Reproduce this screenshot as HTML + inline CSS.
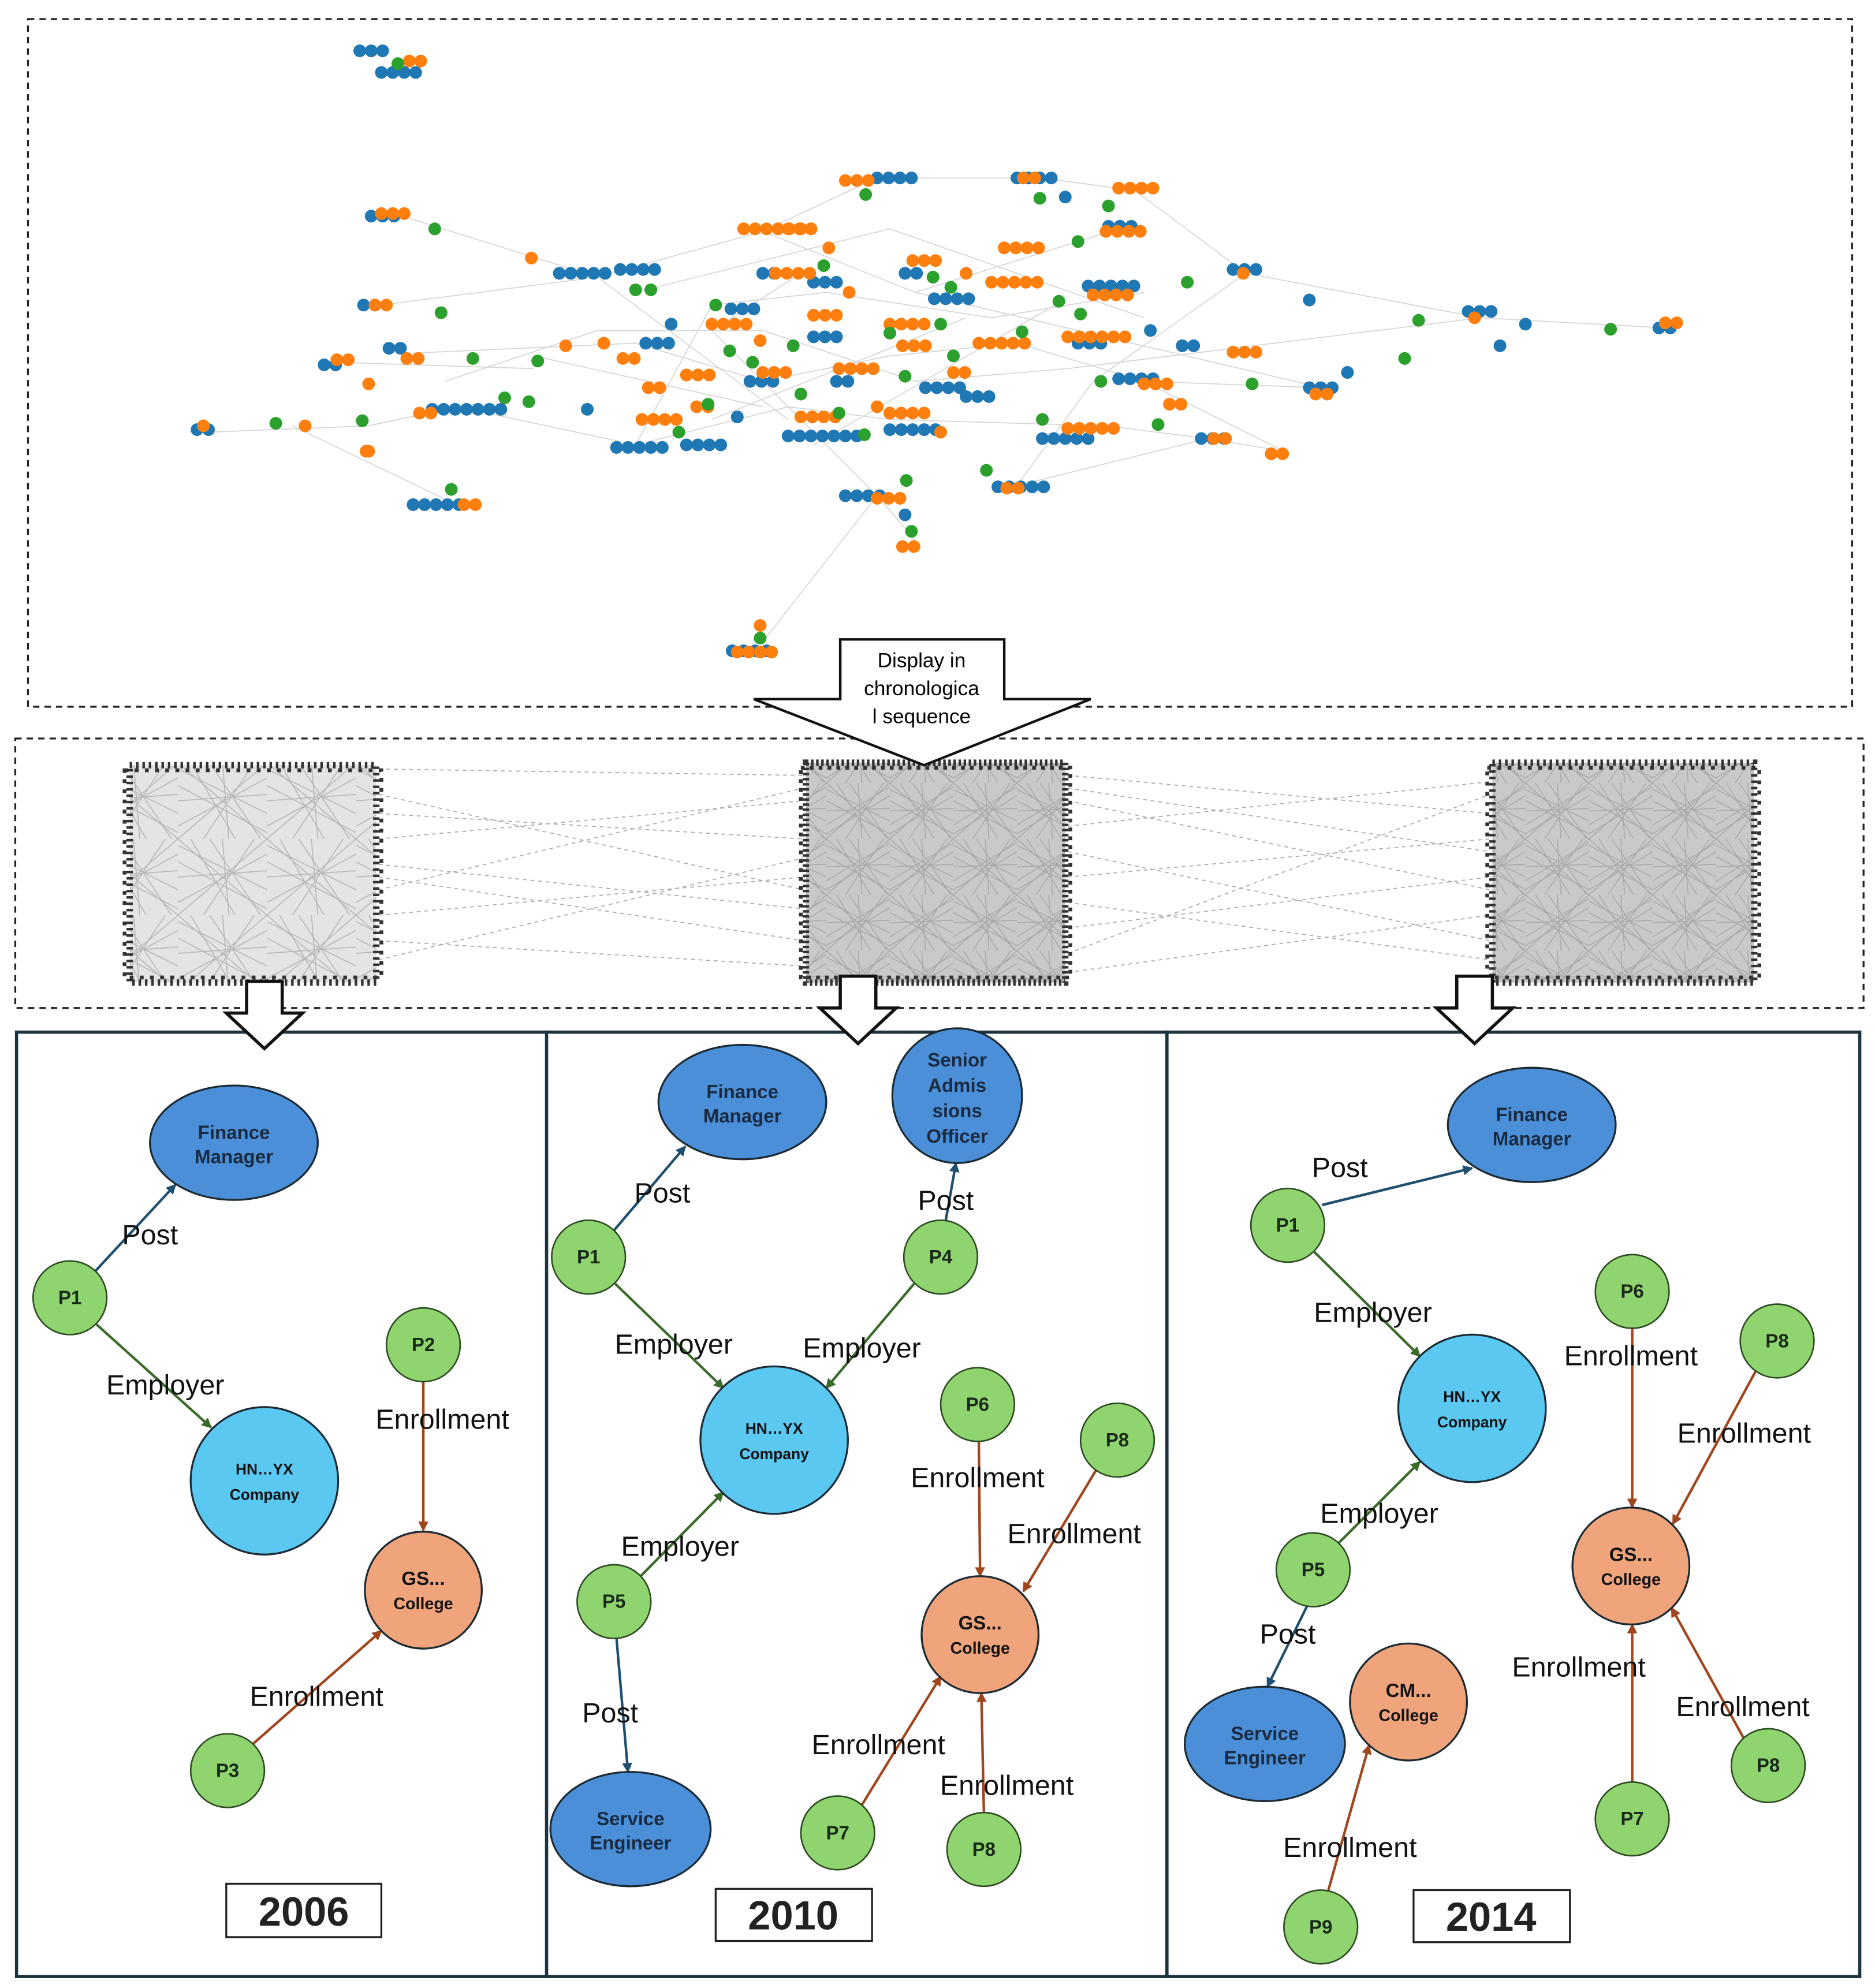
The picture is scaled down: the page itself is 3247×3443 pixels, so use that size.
<!DOCTYPE html>
<html><head><meta charset="utf-8"><style>
html,body{margin:0;padding:0;background:#fff;}
svg{display:block;}
text{font-family:"Liberation Sans",sans-serif;}
</style></head><body>
<svg width="3247" height="3443" viewBox="0 0 1475 1564" xmlns="http://www.w3.org/2000/svg">
<defs>
<marker id="ab" markerWidth="8" markerHeight="8" refX="7" refY="4" orient="auto" markerUnits="userSpaceOnUse"><path d="M0,0 L8,4 L0,8 z" fill="#1f4e6e"/></marker>
<marker id="ag" markerWidth="8" markerHeight="8" refX="7" refY="4" orient="auto" markerUnits="userSpaceOnUse"><path d="M0,0 L8,4 L0,8 z" fill="#3a6b2a"/></marker>
<marker id="ao" markerWidth="8" markerHeight="8" refX="7" refY="4" orient="auto" markerUnits="userSpaceOnUse"><path d="M0,0 L8,4 L0,8 z" fill="#a0461e"/></marker>
<pattern id="p1" width="70" height="60" patternUnits="userSpaceOnUse">
<rect width="70" height="60" fill="#e4e4e4"/>
<path d="M0,5 L70,40 M0,50 L70,12 M10,0 L45,60 M60,0 L20,60 M0,30 L70,25 M35,0 L40,60 M0,0 L70,60 M70,0 L0,60 M0,18 L70,55 M25,0 L65,60" stroke="#b8b8b8" stroke-width="0.8"/>
</pattern>
<pattern id="p2" width="50" height="44" patternUnits="userSpaceOnUse">
<rect width="50" height="44" fill="#c9c9c9"/>
<path d="M0,5 L50,30 M0,40 L50,10 M8,0 L35,44 M45,0 L15,44 M0,22 L50,20 M25,0 L28,44 M0,0 L50,44 M50,0 L0,44 M0,14 L50,40 M18,0 L48,44 M0,33 L50,3" stroke="#a8a8a8" stroke-width="0.7"/>
</pattern>
</defs>
<rect x="0" y="0" width="1475" height="1564" fill="#fff"/>
<rect x="22" y="15" width="1435" height="541" fill="none" stroke="#222" stroke-width="1.5" stroke-dasharray="5,4"/>
<rect x="12" y="581" width="1454" height="212" fill="none" stroke="#222" stroke-width="1.5" stroke-dasharray="5,4"/>

<!-- network grey edges -->
<path fill="none" stroke="#d6d6d6" stroke-width="0.8" d="
M310,168 L470,218 L600,182 L690,140 L820,140 L893,150 L980,215 L1165,250 L1310,258
M300,240 L470,218 M320,278 L500,270 L600,300 L700,280 L800,270 L900,300 L1040,305
M165,340 L290,335 L360,320 L500,350 L620,320 L700,330 L870,335 L950,345 L1010,355
M230,335 L355,395 M600,182 L720,230 L880,180 M630,215 L560,260 L690,390 L720,425
M800,382 L860,300 L980,215 M500,350 L560,240 L650,230 L780,250 L900,230
M350,300 L470,260 L600,260 L720,300 L840,290 L1165,250 M900,300 L1010,355
M600,505 L690,390 M500,230 L700,180 L900,250 M560,330 L760,250 M640,350 L830,240
M720,230 L1040,305 M420,280 L600,320 M800,382 L950,345 M265,285 L420,290 M470,218 L620,330"/>

<!-- network dots -->
<g fill="none" stroke-linecap="round" stroke-width="10">
<path stroke="#1f77b4" stroke-dasharray="0,9" d="
M283,40h20 M300,57h30 M292,170h20 M440,215h45 M286,240h14 M306,274h16 M255,287h10 M155,338h18 M340,322h55 M325,397h45 M690,140h30 M800,140h30 M872,178h25 M970,212h25 M1155,245h25 M1305,258h18 M1030,305h20 M945,345h25 M785,383h40 M665,390h35 M576,512h35 M485,352h40 M540,350h30 M820,345h45 M880,298h30 M488,212h30 M856,225h45 M735,235h30 M575,243h25 M640,222h22 M620,343h60 M700,338h40 M508,270h25 M640,265h25 M728,305h30 M848,270h20 M590,300h20 M658,300h15 M600,215h10 M712,215h15 M930,272h10 M1030,236h5 M1180,272h5 M1200,255h5 M1060,293h5 M838,155h5 M528,255h5 M580,328h5 M760,312h25 M905,260h8 M462,322h5 M712,405h5"/>
<path stroke="#ff7f0e" stroke-dasharray="0,9" d="
M322,48h12 M300,168h20 M295,240h15 M320,282h12 M265,283h10 M160,335h5 M240,335h5 M290,355h5 M330,325h15 M365,397h15 M418,203h5 M585,180h50 M610,215h30 M665,142h25 M805,140h15 M880,148h35 M870,182h35 M790,195h30 M978,215h5 M1160,250h5 M1310,254h10 M1035,310h15 M1000,357h15 M970,277h25 M955,345h10 M792,384h15 M690,392h25 M710,430h15 M580,513h30 M598,492h5 M505,330h30 M560,255h30 M640,248h25 M700,255h30 M770,270h40 M840,265h50 M860,232h35 M660,290h30 M540,295h25 M600,293h20 M510,305h15 M630,328h35 M700,325h30 M840,337h40 M900,302h25 M920,318h10 M780,222h40 M620,180h25 M652,195h5 M668,230h5 M718,205h20 M490,282h10 M475,270h5 M445,272h5 M290,302h5 M288,355h5 M598,268h5 M710,272h20 M750,293h15 M740,340h5 M548,320h10 M690,320h5 M760,215h5"/>
<path stroke="#2ca02c" stroke-dasharray="0,9" d="
M313,50h5 M342,180h5 M347,246h5 M372,282h5 M217,333h5 M285,331h5 M355,385h5 M423,284h5 M397,313h5 M416,316h5 M500,228h5 M512,228h5 M563,240h5 M574,276h5 M592,285h5 M624,272h5 M681,153h5 M734,218h5 M748,226h5 M818,156h5 M848,190h5 M872,162h5 M833,237h5 M850,247h5 M934,222h5 M1116,252h5 M1105,282h5 M1267,259h5 M985,302h5 M911,334h5 M866,300h5 M820,330h5 M804,261h5 M740,255h5 M700,262h5 M660,325h5 M630,310h5 M712,296h5 M776,370h5 M713,378h5 M717,418h5 M598,502h5 M557,318h5 M534,340h5 M648,209h5 M680,342h5 M750,280h5"/>
</g>

<!-- middle panel: inter-links -->
<path fill="none" stroke="#aaa" stroke-width="0.8" stroke-dasharray="3,3" d="
M298,605 L632,610 M298,625 L632,700 M298,640 L632,660 M298,660 L632,630 M298,690 L632,740 M298,700 L632,620 M298,720 L632,690 M298,740 L632,760 M298,755 L632,675 M298,680 L632,715
M840,610 L1172,640 M840,630 L1172,700 M840,650 L1172,615 M840,670 L1172,740 M840,690 L1172,660 M840,710 L1172,755 M840,730 L1172,690 M840,750 L1172,625 M840,765 L1172,720 M840,620 L1172,670"/>
<rect x="102" y="602" width="194" height="171" fill="url(#p1)"/>
<rect x="634" y="600" width="204" height="173" fill="url(#p2)"/>
<rect x="1174" y="600" width="206" height="173" fill="url(#p2)"/>
<g fill="none" stroke="#333">
<rect x="102" y="602" width="194" height="171" stroke-width="5" stroke-dasharray="2,3"/>
<rect x="98" y="606" width="202" height="163" stroke-width="3" stroke-dasharray="3,5"/>
<rect x="634" y="600" width="204" height="173" stroke-width="5" stroke-dasharray="2,2"/>
<rect x="630" y="604" width="212" height="165" stroke-width="3" stroke-dasharray="3,4"/>
<rect x="1174" y="600" width="206" height="173" stroke-width="5" stroke-dasharray="2,3"/>
<rect x="1170" y="604" width="214" height="165" stroke-width="3" stroke-dasharray="3,5"/>
</g>

<!-- big arrow -->
<path d="M661,503 H790 V550 H858 L727,602 L593,550 H661 Z" fill="#fff" stroke="#111" stroke-width="2"/>
<text x="725" y="525" font-size="16" text-anchor="middle">Display in</text>
<text x="725" y="547" font-size="16" text-anchor="middle">chronologica</text>
<text x="725" y="569" font-size="16" text-anchor="middle">l sequence</text>
<!-- panels -->
<rect x="13" y="812" width="417" height="743" fill="#fff" stroke="#1c3340" stroke-width="2.5"/>
<rect x="430" y="812" width="488" height="743" fill="#fff" stroke="#1c3340" stroke-width="2.5"/>
<rect x="918" y="812" width="545" height="743" fill="#fff" stroke="#1c3340" stroke-width="2.5"/>
<!-- down arrows -->
<g fill="#fff" stroke="#111" stroke-width="2.5">
<path d="M194,772 H222 V797 H238 L208,825 L178,797 H194 Z"/>
<path d="M661,768 H689 V793 H705 L675,821 L645,793 H661 Z"/>
<path d="M1146,768 H1174 V793 H1190 L1160,821 L1130,793 H1146 Z"/>
</g>
<g stroke-width="2" fill="none">
<line x1="75" y1="1000" x2="138" y2="932" stroke="#1f4e6e" marker-end="url(#ab)"/>
<line x1="76" y1="1042" x2="166" y2="1123" stroke="#3a6b2a" marker-end="url(#ag)"/>
<line x1="333" y1="1087" x2="333" y2="1204" stroke="#a0461e" marker-end="url(#ao)"/>
<line x1="199" y1="1372" x2="300" y2="1283" stroke="#a0461e" marker-end="url(#ao)"/>
<line x1="483" y1="968" x2="539" y2="902" stroke="#1f4e6e" marker-end="url(#ab)"/>
<line x1="744" y1="960" x2="752" y2="915" stroke="#1f4e6e" marker-end="url(#ab)"/>
<line x1="484" y1="1010" x2="569" y2="1092" stroke="#3a6b2a" marker-end="url(#ag)"/>
<line x1="719" y1="1010" x2="650" y2="1092" stroke="#3a6b2a" marker-end="url(#ag)"/>
<line x1="504" y1="1240" x2="569" y2="1174" stroke="#3a6b2a" marker-end="url(#ag)"/>
<line x1="485" y1="1289" x2="494" y2="1394" stroke="#1f4e6e" marker-end="url(#ab)"/>
<line x1="770" y1="1134" x2="771" y2="1240" stroke="#a0461e" marker-end="url(#ao)"/>
<line x1="862" y1="1157" x2="805" y2="1252" stroke="#a0461e" marker-end="url(#ao)"/>
<line x1="678" y1="1420" x2="740" y2="1319" stroke="#a0461e" marker-end="url(#ao)"/>
<line x1="774" y1="1426" x2="772" y2="1332" stroke="#a0461e" marker-end="url(#ao)"/>
<line x1="1040" y1="948" x2="1158" y2="919" stroke="#1f4e6e" marker-end="url(#ab)"/>
<line x1="1034" y1="985" x2="1117" y2="1067" stroke="#3a6b2a" marker-end="url(#ag)"/>
<line x1="1053" y1="1214" x2="1117" y2="1150" stroke="#3a6b2a" marker-end="url(#ag)"/>
<line x1="1028" y1="1264" x2="997" y2="1327" stroke="#1f4e6e" marker-end="url(#ab)"/>
<line x1="1284" y1="1045" x2="1284" y2="1186" stroke="#a0461e" marker-end="url(#ao)"/>
<line x1="1381" y1="1079" x2="1316" y2="1199" stroke="#a0461e" marker-end="url(#ao)"/>
<line x1="1284" y1="1402" x2="1284" y2="1278" stroke="#a0461e" marker-end="url(#ao)"/>
<line x1="1372" y1="1368" x2="1315" y2="1265" stroke="#a0461e" marker-end="url(#ao)"/>
<line x1="1045" y1="1487" x2="1077" y2="1373" stroke="#a0461e" marker-end="url(#ao)"/>
</g>
<g stroke="#1c2a33" stroke-width="1.5">
<ellipse cx="184" cy="899" rx="66" ry="45" fill="#4a8fd8"/>
<ellipse cx="584" cy="867" rx="66" ry="45" fill="#4a8fd8"/>
<ellipse cx="753" cy="862" rx="51" ry="53" fill="#4a8fd8"/>
<ellipse cx="1205" cy="885" rx="66" ry="45" fill="#4a8fd8"/>
<ellipse cx="496" cy="1439" rx="63" ry="45" fill="#4a8fd8"/>
<ellipse cx="995" cy="1372" rx="63" ry="45" fill="#4a8fd8"/>
<circle cx="208" cy="1165" r="58" fill="#5bc8f2"/>
<circle cx="609" cy="1133" r="58" fill="#5bc8f2"/>
<circle cx="1158" cy="1108" r="58" fill="#5bc8f2"/>
<circle cx="333" cy="1251" r="46" fill="#f0a47c"/>
<circle cx="771" cy="1286" r="46" fill="#f0a47c"/>
<circle cx="1283" cy="1232" r="46" fill="#f0a47c"/>
<circle cx="1108" cy="1339" r="46" fill="#f0a47c"/>
</g>
<g fill="#8fd46e" stroke="#2d4a22" stroke-width="1.2">
<circle cx="55" cy="1021" r="29"/><circle cx="333" cy="1058" r="29"/><circle cx="179" cy="1393" r="29"/>
<circle cx="463" cy="989" r="29"/><circle cx="740" cy="989" r="29"/><circle cx="769" cy="1105" r="29"/>
<circle cx="879" cy="1133" r="29"/><circle cx="483" cy="1260" r="29"/><circle cx="659" cy="1442" r="29"/><circle cx="774" cy="1455" r="29"/>
<circle cx="1013" cy="964" r="29"/><circle cx="1284" cy="1016" r="29"/><circle cx="1398" cy="1055" r="29"/>
<circle cx="1033" cy="1235" r="29"/><circle cx="1284" cy="1431" r="29"/><circle cx="1391" cy="1389" r="29"/><circle cx="1039" cy="1516" r="29"/>
</g>
<g font-size="15" font-weight="bold" fill="#1a2a40" text-anchor="middle">
<text x="184" y="896">Finance</text><text x="184" y="915">Manager</text>
<text x="584" y="864">Finance</text><text x="584" y="883">Manager</text>
<text x="1205" y="882">Finance</text><text x="1205" y="901">Manager</text>
<text x="753" y="839">Senior</text><text x="753" y="859">Admis</text><text x="753" y="879">sions</text><text x="753" y="899">Officer</text>
<text x="496" y="1436">Service</text><text x="496" y="1455">Engineer</text>
<text x="995" y="1369">Service</text><text x="995" y="1388">Engineer</text>
</g>
<g font-size="12" font-weight="bold" fill="#111" text-anchor="middle">
<text x="208" y="1160">HN…YX</text><text x="208" y="1180">Company</text>
<text x="609" y="1128">HN…YX</text><text x="609" y="1148">Company</text>
<text x="1158" y="1103">HN…YX</text><text x="1158" y="1123">Company</text>
</g>
<g font-weight="bold" fill="#111" text-anchor="middle">
<text x="333" y="1247" font-size="15">GS...</text><text x="333" y="1266" font-size="13">College</text>
<text x="771" y="1282" font-size="15">GS...</text><text x="771" y="1301" font-size="13">College</text>
<text x="1283" y="1228" font-size="15">GS...</text><text x="1283" y="1247" font-size="13">College</text>
<text x="1108" y="1335" font-size="15">CM...</text><text x="1108" y="1354" font-size="13">College</text>
</g>
<g font-size="15" font-weight="bold" fill="#1a2a1a" text-anchor="middle">
<text x="55" y="1026">P1</text><text x="333" y="1063">P2</text><text x="179" y="1398">P3</text>
<text x="463" y="994">P1</text><text x="740" y="994">P4</text><text x="769" y="1110">P6</text>
<text x="879" y="1138">P8</text><text x="483" y="1265">P5</text><text x="659" y="1447">P7</text><text x="774" y="1460">P8</text>
<text x="1013" y="969">P1</text><text x="1284" y="1021">P6</text><text x="1398" y="1060">P8</text>
<text x="1033" y="1240">P5</text><text x="1284" y="1436">P7</text><text x="1391" y="1394">P8</text><text x="1039" y="1521">P9</text>
</g>
<g font-size="22" fill="#111" text-anchor="middle">
<text x="118" y="979">Post</text><text x="130" y="1097">Employer</text><text x="348" y="1124">Enrollment</text><text x="249" y="1342">Enrollment</text>
<text x="521" y="946">Post</text><text x="744" y="952">Post</text><text x="530" y="1065">Employer</text><text x="678" y="1068">Employer</text>
<text x="769" y="1170">Enrollment</text><text x="845" y="1214">Enrollment</text><text x="535" y="1224">Employer</text><text x="480" y="1355">Post</text>
<text x="691" y="1380">Enrollment</text><text x="792" y="1412">Enrollment</text>
<text x="1054" y="926">Post</text><text x="1080" y="1040">Employer</text><text x="1283" y="1074">Enrollment</text><text x="1372" y="1135">Enrollment</text>
<text x="1085" y="1198">Employer</text><text x="1013" y="1293">Post</text><text x="1242" y="1319">Enrollment</text><text x="1371" y="1350">Enrollment</text><text x="1062" y="1461">Enrollment</text>
</g>
<g fill="#fff" stroke="#222" stroke-width="1.5">
<rect x="178" y="1482" width="122" height="42"/><rect x="563" y="1486" width="123" height="41"/><rect x="1112" y="1487" width="123" height="41"/>
</g>
<g font-size="32" font-weight="bold" fill="#222" text-anchor="middle">
<text x="239" y="1515">2006</text><text x="624" y="1518">2010</text><text x="1173" y="1519">2014</text>
</g>
</svg>
</body></html>
